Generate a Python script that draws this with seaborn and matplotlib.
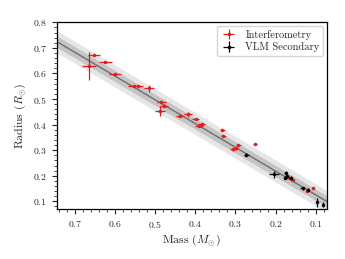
import numpy as np
import pandas as pd
import seaborn as sns
import matplotlib
matplotlib.use("Agg")
import matplotlib.pyplot as plt
from matplotlib.ticker import MultipleLocator

# interferometric radii (red)
int_mass = [0.652, 0.664, 0.624, 0.599, 0.553, 0.542, 0.515, 0.484, 0.478, 0.487,
            0.438, 0.419, 0.399, 0.390, 0.384, 0.333, 0.330, 0.306, 0.299, 0.293,
            0.252, 0.169, 0.158, 0.122, 0.107]
int_radius = [0.672, 0.630, 0.644, 0.597, 0.551, 0.549, 0.542, 0.490, 0.474, 0.453,
              0.435, 0.441, 0.421, 0.396, 0.402, 0.378, 0.357, 0.304, 0.308, 0.322,
              0.323, 0.195, 0.184, 0.142, 0.152]
int_mass_err = [0.015, 0.018, 0.016, 0.015, 0.015, 0.012, 0.012, 0.012, 0.010, 0.012,
                0.010, 0.010, 0.008, 0.010, 0.008, 0.006, 0.006, 0.008, 0.006, 0.006,
                0.005, 0.004, 0.004, 0.003, 0.003]
int_radius_err = [0.005, 0.054, 0.004, 0.004, 0.004, 0.004, 0.013, 0.006, 0.006, 0.018,
                  0.006, 0.010, 0.004, 0.006, 0.004, 0.004, 0.004, 0.006, 0.006, 0.004,
                  0.004, 0.005, 0.005, 0.004, 0.004]

# VLM secondaries (black)
vlm_mass = [0.273, 0.204, 0.175, 0.173, 0.176, 0.163, 0.133, 0.120, 0.097, 0.082]
vlm_radius = [0.283, 0.206, 0.211, 0.199, 0.191, 0.193, 0.151, 0.146, 0.097, 0.086]
vlm_mass_err = [0.006, 0.012, 0.004, 0.004, 0.004, 0.004, 0.006, 0.003, 0.003, 0.002]
vlm_radius_err = [0.005, 0.013, 0.008, 0.005, 0.005, 0.005, 0.006, 0.005, 0.018, 0.010]

# linear mass-radius relation and its scatter
fit_slope = 0.93
fit_intercept = 0.032
band_inner = 0.022
band_outer = 0.043

sns.set_style("ticks")
plt.rcParams["font.family"] = "serif"
plt.rcParams["font.serif"] = ["cmr10", "DejaVu Serif"]
plt.rcParams["mathtext.fontset"] = "cm"
plt.rcParams["axes.formatter.use_mathtext"] = True

fig = plt.figure(figsize=(3.45, 2.59), dpi=100)
ax = fig.add_axes([0.164, 0.193, 0.783, 0.721])

m = np.linspace(0.0, 0.8, 50)
r = fit_slope * m + fit_intercept
fit = pd.DataFrame({"mass": m, "radius": r})
ax.fill_between(m, r - band_outer, r + band_outer, color="#e6e6e6", lw=0, zorder=1)
ax.fill_between(m, r - band_inner, r + band_inner, color="#c4c4c4", lw=0, zorder=1)
sns.lineplot(data=fit, x="mass", y="radius", color="#6e6e6e", lw=1.0, ax=ax, zorder=2)

red = "#e41a1c"
ax.errorbar(int_mass, int_radius, xerr=int_mass_err, yerr=int_radius_err,
            fmt=".", ms=3, color=red, ecolor=red, elinewidth=0.9, capsize=0,
            label="Interferometry", zorder=3)
ax.errorbar(vlm_mass, vlm_radius, xerr=vlm_mass_err, yerr=vlm_radius_err,
            fmt=".", ms=3, color="black", ecolor="black", elinewidth=0.9, capsize=0,
            label="VLM Secondary", zorder=4)

ax.set_xlim(0.745, 0.073)
ax.set_ylim(0.07, 0.8)
ax.xaxis.set_major_locator(MultipleLocator(0.1))
ax.xaxis.set_minor_locator(MultipleLocator(0.02))
ax.yaxis.set_major_locator(MultipleLocator(0.1))
ax.yaxis.set_minor_locator(MultipleLocator(0.02))
ax.tick_params(which="major", length=3.5, width=0.8, labelsize=7, direction="out")
ax.tick_params(which="minor", length=2, width=0.6, direction="out")
for s in ax.spines.values():
    s.set_linewidth(0.9)
    s.set_color("black")

ax.set_xlabel(r"Mass ($M_{\odot}$)", fontsize=8.5, labelpad=2)
ax.set_ylabel(r"Radius ($R_{\odot}$)", fontsize=8.5, labelpad=3)
ax.legend(loc="upper right", fontsize=7.5, frameon=True, handlelength=1.6,
          borderaxespad=0.35, labelspacing=0.25, borderpad=0.35, fancybox=True,
          framealpha=0.8)

fig.savefig("out.png", dpi=100)
